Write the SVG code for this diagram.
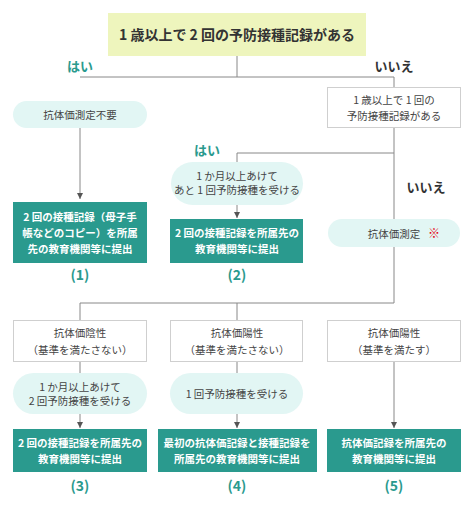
<svg xmlns="http://www.w3.org/2000/svg" width="474" height="507" viewBox="0 0 474 507">
<defs>
<marker id="arr" markerWidth="7" markerHeight="6" refX="6" refY="3" orient="auto" markerUnits="userSpaceOnUse">
<path d="M0,0 L6,3 L0,6 Z" fill="#555"/>
</marker>
</defs>
<style>
text{font-family:"Noto Sans CJK JP","Noto Sans",sans-serif;text-anchor:middle}
.top{fill:#eef5bd}
.pill{fill:#e2f6f4}
.gbox{fill:#fff;stroke:#cfcfcf;stroke-width:1}
.tbox{fill:#2a9a8e}
.t{font-size:10.5px;fill:#444}
.w{font-size:10.5px;fill:#fff;font-weight:bold}
.yes{font-size:13px;fill:#2a9a8e;font-weight:bold}
.no{font-size:13px;fill:#333;font-weight:bold}
.num{font-size:14px;fill:#2a9a8e;font-weight:bold}
.ln{fill:none;stroke:#888;stroke-width:1}
</style>
<rect width="474" height="507" fill="#fff"/>
<g id="connectors">
<path class="ln" d="M237,56 V77 M80,77 H394 V87"/>
<path class="ln" d="M80,128 V199" marker-end="url(#arr)"/>
<path class="ln" d="M394,128 V303 M237,153 H394 M237,153 V162"/>
<path class="ln" d="M237,205 V218" marker-end="url(#arr)"/>
<path class="ln" d="M80,303 H394 M80,303 V320 M237,303 V320"/>
<path class="ln" d="M80,362 V373 M237,362 V373"/>
<path class="ln" d="M80,414 V428" marker-end="url(#arr)"/>
<path class="ln" d="M237,414 V428" marker-end="url(#arr)"/>
<path class="ln" d="M394,362 V428" marker-end="url(#arr)"/>
</g>
<g id="labels">
<text class="yes" x="80" y="71">はい</text>
<text class="no" x="394" y="71">いいえ</text>
<text class="yes" x="207" y="155">はい</text>
<text class="no" x="426" y="192">いいえ</text>
</g>
<g id="q1">
<rect class="top" x="108" y="13" width="258" height="43"/>
<text x="237" y="40" style="font-size:14px;font-weight:bold;fill:#333">1 歳以上で 2 回の予防接種記録がある</text>
</g>
<g id="noNeed">
<rect class="pill" x="13" y="101" width="134" height="27" rx="13.5"/>
<text class="t" x="80" y="119">抗体価測定不要</text>
</g>
<g id="q2">
<rect class="gbox" x="327.5" y="87.5" width="133" height="40"/>
<text class="t" x="394" y="104">1 歳以上で 1 回の</text>
<text class="t" x="394" y="120">予防接種記録がある</text>
</g>
<g id="oneMore">
<rect class="pill" x="171" y="162" width="132" height="43" rx="21.5"/>
<text class="t" x="237" y="180">1 か月以上あけて</text>
<text class="t" x="237" y="194">あと 1 回予防接種を受ける</text>
</g>
<g id="test">
<rect class="pill" x="328" y="219" width="132" height="28" rx="14"/>
<text class="t" x="394" y="238">抗体価測定</text>
<text x="434" y="238" style="font-size:12px;fill:#e60012;font-weight:bold">※</text>
</g>
<g id="r1">
<rect class="tbox" x="13" y="202" width="134" height="61"/>
<text class="w" x="80" y="221">2 回の接種記録（母子手</text>
<text class="w" x="80" y="237">帳などのコピー）を所属</text>
<text class="w" x="80" y="253">先の教育機関等に提出</text>
<text class="num" x="80" y="280">(1)</text>
</g>
<g id="r2">
<rect class="tbox" x="170" y="219" width="133" height="44"/>
<text class="w" x="237" y="237">2 回の接種記録を所属先の</text>
<text class="w" x="237" y="253">教育機関等に提出</text>
<text class="num" x="237" y="280">(2)</text>
</g>
<g id="neg">
<rect class="gbox" x="13.5" y="320.5" width="133" height="41"/>
<text class="t" x="80" y="337">抗体価陰性</text>
<text class="t" x="80" y="354">（基準を満たさない）</text>
</g>
<g id="posLow">
<rect class="gbox" x="170.5" y="320.5" width="132" height="41"/>
<text class="t" x="237" y="337">抗体価陽性</text>
<text class="t" x="237" y="354">（基準を満たさない）</text>
</g>
<g id="posOk">
<rect class="gbox" x="327.5" y="320.5" width="133" height="41"/>
<text class="t" x="394" y="337">抗体価陽性</text>
<text class="t" x="394" y="354">（基準を満たす）</text>
</g>
<g id="twoShots">
<rect class="pill" x="13" y="373" width="134" height="41" rx="20.5"/>
<text class="t" x="80" y="391">1 か月以上あけて</text>
<text class="t" x="80" y="405">2 回予防接種を受ける</text>
</g>
<g id="oneShot">
<rect class="pill" x="170" y="373" width="133" height="41" rx="20.5"/>
<text class="t" x="237" y="398">1 回予防接種を受ける</text>
</g>
<g id="r3">
<rect class="tbox" x="13" y="429" width="134" height="43"/>
<text class="w" x="80" y="447">2 回の接種記録を所属先の</text>
<text class="w" x="80" y="463">教育機関等に提出</text>
<text class="num" x="80" y="491">(3)</text>
</g>
<g id="r4">
<rect class="tbox" x="158" y="429" width="159" height="43"/>
<text class="w" x="237" y="447">最初の抗体価記録と接種記録を</text>
<text class="w" x="237" y="463">所属先の教育機関等に提出</text>
<text class="num" x="237" y="491">(4)</text>
</g>
<g id="r5">
<rect class="tbox" x="327" y="429" width="134" height="43"/>
<text class="w" x="394" y="447">抗体価記録を所属先の</text>
<text class="w" x="394" y="463">教育機関等に提出</text>
<text class="num" x="394" y="491">(5)</text>
</g>
</svg>
